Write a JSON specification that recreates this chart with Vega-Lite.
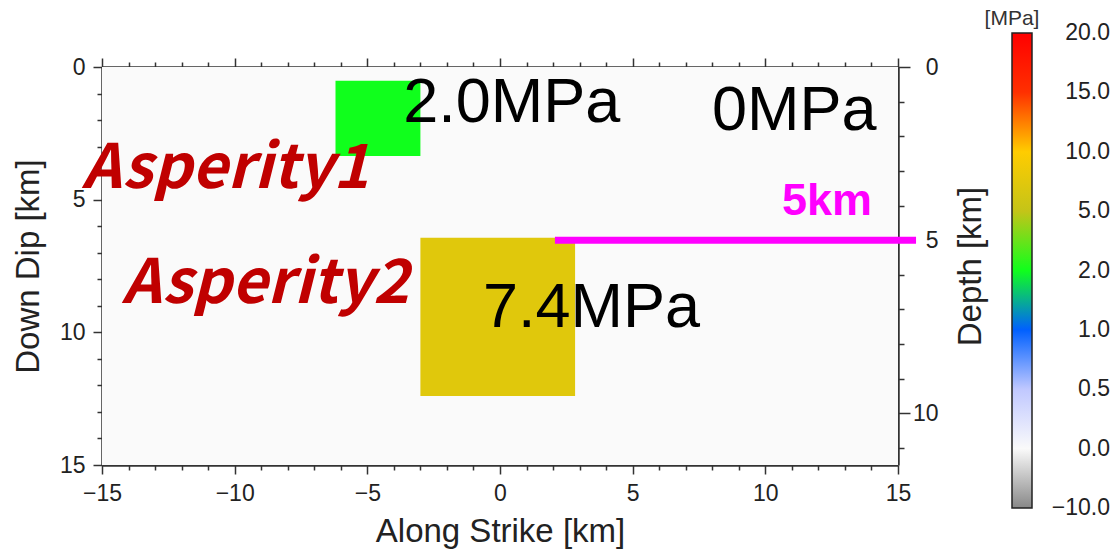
{
  "$schema": "https://vega.github.io/schema/vega-lite/v6.json",
  "width": 796,
  "height": 398,
  "autosize": {"type": "none"},
  "padding": {"left": 102, "top": 67, "right": 214, "bottom": 90},
  "background": "white",
  "config": {
    "view": {"stroke": null},
    "axis": {
      "grid": false,
      "domainColor": "#333",
      "domainWidth": 2.5,
      "tickColor": "#333",
      "tickWidth": 1.5,
      "labelFont": "Liberation Sans",
      "labelFontSize": 23,
      "labelColor": "#222",
      "titleFont": "Liberation Sans",
      "titleFontSize": 33,
      "titleFontWeight": "normal",
      "titleColor": "#222"
    }
  },
  "datasets": {
    "fault": [
      {"region": "Background", "s1": -15, "s2": 15, "d1": 0, "d2": 15, "stress": 0},
      {"region": "Asperity1", "s1": -6.2, "s2": -3.0, "d1": 0.52, "d2": 3.35, "stress": 2.0},
      {"region": "Asperity2", "s1": -3.0, "s2": 2.83, "d1": 6.44, "d2": 12.4, "stress": 7.4}
    ],
    "colorbar": [
      {"idx": 0, "stress": -10}, {"idx": 1, "stress": 0}, {"idx": 2, "stress": 0.5},
      {"idx": 3, "stress": 1}, {"idx": 4, "stress": 2}, {"idx": 5, "stress": 5},
      {"idx": 6, "stress": 10}, {"idx": 7, "stress": 15}, {"idx": 8, "stress": 20}
    ],
    "mpa": [
      {"s": -3.65, "d": 2.07, "label": "2.0MPa"},
      {"s": 7.99, "d": 2.37, "label": "0MPa"},
      {"s": -0.64, "d": 9.8, "label": "7.4MPa"}
    ],
    "asperity": [
      {"s": -15.75, "d": 4.56, "label": "Asperity1"},
      {"s": -14.25, "d": 8.9, "label": "Asperity2"}
    ],
    "depthnote": [
      {"s": 10.63, "d": 5.58, "label": "5km"}
    ],
    "depthline": [
      {"from": 2.07, "to": 15.68, "depth": 5}
    ]
  },
  "layer": [
    {
      "data": {"name": "fault"},
      "mark": {"type": "rect"},
      "encoding": {
        "x": {
          "field": "s1", "type": "quantitative",
          "scale": {"domain": [-15, 15], "nice": false, "zero": false},
          "axis": {
            "orient": "bottom",
            "title": "Along Strike [km]",
            "values": [-15,-14,-13,-12,-11,-10,-9,-8,-7,-6,-5,-4,-3,-2,-1,0,1,2,3,4,5,6,7,8,9,10,11,12,13,14,15],
            "labelExpr": "datum.value % 5 === 0 ? datum.label : ''",
            "tickSize": {"condition": {"test": "datum.value % 5 === 0", "value": 9}, "value": 5},
            "labelPadding": 8,
            "titlePadding": 10,
            "labelFlush": false
          }
        },
        "x2": {"field": "s2"},
        "y": {
          "field": "d1", "type": "quantitative",
          "scale": {"domain": [0, 15], "nice": false, "zero": false, "reverse": true},
          "axis": {
            "orient": "left",
            "title": "Down Dip [km]",
            "values": [0,1,2,3,4,5,6,7,8,9,10,11,12,13,14,15],
            "labelExpr": "datum.value % 5 === 0 ? datum.label : ''",
            "tickSize": {"condition": {"test": "datum.value % 5 === 0", "value": 9}, "value": 5},
            "labelPadding": 8,
            "titlePadding": 14,
            "labelFlush": false
          }
        },
        "y2": {"field": "d2"},
        "fill": {
          "field": "stress", "type": "quantitative",
          "scale": {
            "domain": [-10, 0, 0.5, 1, 2, 5, 10, 15, 20],
            "range": ["#888888", "#fafafa", "#c0c8ff", "#0060ff", "#10ff1c", "#c4c418", "#ffcc00", "#ff3000", "#ff0000"],
            "interpolate": "rgb"
          },
          "legend": null
        }
      }
    },
    {
      "data": {"name": "colorbar"},
      "mark": {"type": "point", "opacity": 0, "size": 0},
      "encoding": {
        "stroke": {
          "field": "idx", "type": "quantitative",
          "scale": {
            "domain": [0, 1, 2, 3, 4, 5, 6, 7, 8],
            "range": ["#888888", "#fafafa", "#c0c8ff", "#0060ff", "#10ff1c", "#c4c418", "#ffcc00", "#ff3000", "#ff0000"],
            "interpolate": "rgb"
          },
          "legend": {
            "type": "gradient",
            "direction": "vertical",
            "orient": "none",
            "legendX": 883,
            "legendY": -59,
            "padding": 0,
            "title": "[MPa]",
            "titleFont": "Liberation Sans",
            "titleFontSize": 21,
            "titleFontWeight": "normal",
            "titleColor": "#333",
            "titleAnchor": "start",
            "titleAlign": "center",
            "titlePadding": 4,
            "gradientLength": 475,
            "gradientThickness": 20,
            "gradientStrokeColor": "#222",
            "gradientStrokeWidth": 1.5,
            "values": [0, 1, 2, 3, 4, 5, 6, 7, 8],
            "labelExpr": "['\u221210.0','0.0','0.5','1.0','2.0','5.0','10.0','15.0','20.0'][datum.value]",
            "labelFont": "Liberation Sans",
            "labelFontSize": 23,
            "labelColor": "#222",
            "labelOffset": 78,
            "labelOverlap": false,
            "encoding": {
              "labels": {
                "align": {"value": "right"},
                "baseline": {"value": "middle"}
              }
            }
          }
        }
      }
    },
    {
      "data": {"name": "mpa"},
      "mark": {"type": "text", "align": "left", "baseline": "alphabetic", "font": "Liberation Sans", "fontSize": 63, "color": "#000000"},
      "encoding": {
        "x": {"field": "s", "type": "quantitative", "scale": {"domain": [-15, 15], "nice": false, "zero": false}, "axis": null},
        "y": {"field": "d", "type": "quantitative", "scale": {"domain": [0, 15], "nice": false, "zero": false, "reverse": true}, "axis": null},
        "text": {"field": "label"}
      }
    },
    {
      "data": {"name": "asperity"},
      "mark": {"type": "text", "align": "left", "baseline": "alphabetic", "font": "Noto Sans CJK JP", "fontSize": 61, "fontWeight": "bold", "fontStyle": "italic", "color": "#c00000"},
      "encoding": {
        "x": {"field": "s", "type": "quantitative", "scale": {"domain": [-15, 15], "nice": false, "zero": false}, "axis": null},
        "y": {"field": "d", "type": "quantitative", "scale": {"domain": [0, 15], "nice": false, "zero": false, "reverse": true}, "axis": null},
        "text": {"field": "label"}
      }
    },
    {
      "data": {"name": "depthnote"},
      "mark": {"type": "text", "align": "left", "baseline": "alphabetic", "font": "Liberation Sans", "fontSize": 45, "fontWeight": "bold", "color": "#ff00ff"},
      "encoding": {
        "x": {"field": "s", "type": "quantitative", "scale": {"domain": [-15, 15], "nice": false, "zero": false}, "axis": null},
        "y": {"field": "d", "type": "quantitative", "scale": {"domain": [0, 15], "nice": false, "zero": false, "reverse": true}, "axis": null},
        "text": {"field": "label"}
      }
    },
    {
      "data": {"name": "depthline"},
      "mark": {"type": "rule", "strokeWidth": 7, "color": "#ff00ff", "clip": false},
      "encoding": {
        "x": {
          "field": "from", "type": "quantitative",
          "scale": {"domain": [-15, 15], "nice": false, "zero": false},
          "axis": {
            "orient": "top",
            "title": null,
            "labels": false,
            "values": [-15,-14,-13,-12,-11,-10,-9,-8,-7,-6,-5,-4,-3,-2,-1,0,1,2,3,4,5,6,7,8,9,10,11,12,13,14,15],
            "tickSize": {"condition": {"test": "datum.value % 5 === 0", "value": 9}, "value": 5}
          }
        },
        "x2": {"field": "to"},
        "y": {
          "field": "depth", "type": "quantitative",
          "scale": {"domain": [0, 11.49], "nice": false, "zero": false, "reverse": true},
          "axis": {
            "orient": "right",
            "title": "Depth [km]",
            "titleAngle": -90,
            "titleBaseline": "top",
            "titlePadding": 16,
            "values": [0,1,2,3,4,5,6,7,8,9,10,11],
            "labelExpr": "datum.value % 5 === 0 ? datum.label : ''",
            "tickSize": {"condition": {"test": "datum.value % 5 === 0", "value": 12}, "value": 6},
            "labelAlign": "right",
            "labelPadding": 28,
            "labelFlush": false
          }
        }
      }
    }
  ],
  "resolve": {"scale": {"y": "independent"}, "axis": {"x": "independent", "y": "independent"}}
}
